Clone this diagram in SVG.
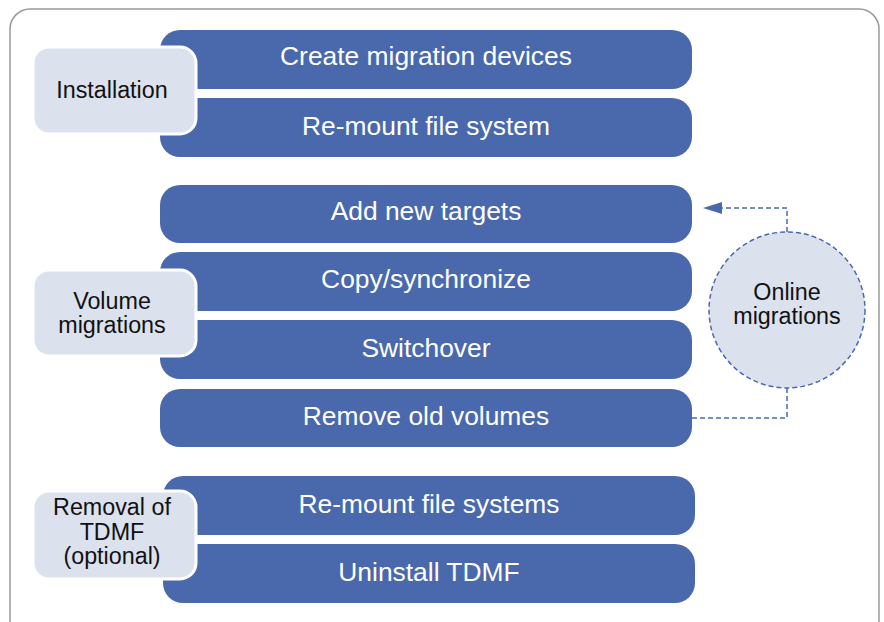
<svg xmlns="http://www.w3.org/2000/svg" width="884" height="622" viewBox="0 0 884 622">
<defs>
<style>
.bar{fill:#4a69ad}
.bt{font-family:"Liberation Sans",Arial,sans-serif;font-size:26.4px;fill:#ffffff;text-anchor:middle}
.lbl{fill:#dce1ee;stroke:#ffffff;stroke-width:3}
.lt{font-family:"Liberation Sans",Arial,sans-serif;font-size:23.3px;fill:#111111;text-anchor:middle}
.dash{fill:none;stroke:#4a69ad;stroke-width:1.5;stroke-dasharray:5 3}
</style>
</defs>
<rect x="10" y="9" width="869" height="640" rx="20" fill="#ffffff" stroke="#999999" stroke-width="1.5"/>

<g id="connectors">
<path class="dash" d="M787,232 V208 H722"/>
<path d="M722,202 L703,208 L722,214 Z" fill="#4a69ad"/>
<path class="dash" d="M787,388 V418 H692"/>
</g>

<g id="bar-create"><rect class="bar" x="160" y="30" width="532" height="59" rx="20"/><text class="bt" x="426" y="65">Create migration devices</text></g>
<g id="bar-remount"><rect class="bar" x="160" y="98" width="532" height="59" rx="20"/><text class="bt" x="426" y="135">Re-mount file system</text></g>
<g id="bar-add"><rect class="bar" x="160" y="185" width="532" height="58" rx="20"/><text class="bt" x="426" y="220">Add new targets</text></g>
<g id="bar-copy"><rect class="bar" x="160" y="252" width="532" height="59" rx="20"/><text class="bt" x="426" y="288">Copy/synchronize</text></g>
<g id="bar-switch"><rect class="bar" x="160" y="320" width="532" height="59" rx="20"/><text class="bt" x="426" y="357">Switchover</text></g>
<g id="bar-remove"><rect class="bar" x="160" y="389" width="532" height="58" rx="20"/><text class="bt" x="426" y="425">Remove old volumes</text></g>
<g id="bar-remount2"><rect class="bar" x="163" y="476" width="532" height="59" rx="20"/><text class="bt" x="429" y="513">Re-mount file systems</text></g>
<g id="bar-uninstall"><rect class="bar" x="163" y="544" width="532" height="59" rx="20"/><text class="bt" x="429" y="581">Uninstall TDMF</text></g>

<g id="lbl-install"><rect class="lbl" x="33" y="47" width="163" height="87" rx="16"/><text class="lt" x="112" y="98">Installation</text></g>
<g id="lbl-volume"><rect class="lbl" x="33" y="270" width="163" height="86" rx="16"/><text class="lt" x="112" y="309">Volume</text><text class="lt" x="112" y="333">migrations</text></g>
<g id="lbl-removal"><rect class="lbl" x="33" y="491" width="163" height="88" rx="16"/><text class="lt" x="112" y="515">Removal of</text><text class="lt" x="112" y="540">TDMF</text><text class="lt" x="112" y="564">(optional)</text></g>

<g id="online"><circle cx="787" cy="310" r="78" fill="#dce1ee" stroke="#4a69ad" stroke-width="1.5" stroke-dasharray="5 3"/><text class="lt" x="787" y="300">Online</text><text class="lt" x="787" y="324">migrations</text></g>
</svg>
